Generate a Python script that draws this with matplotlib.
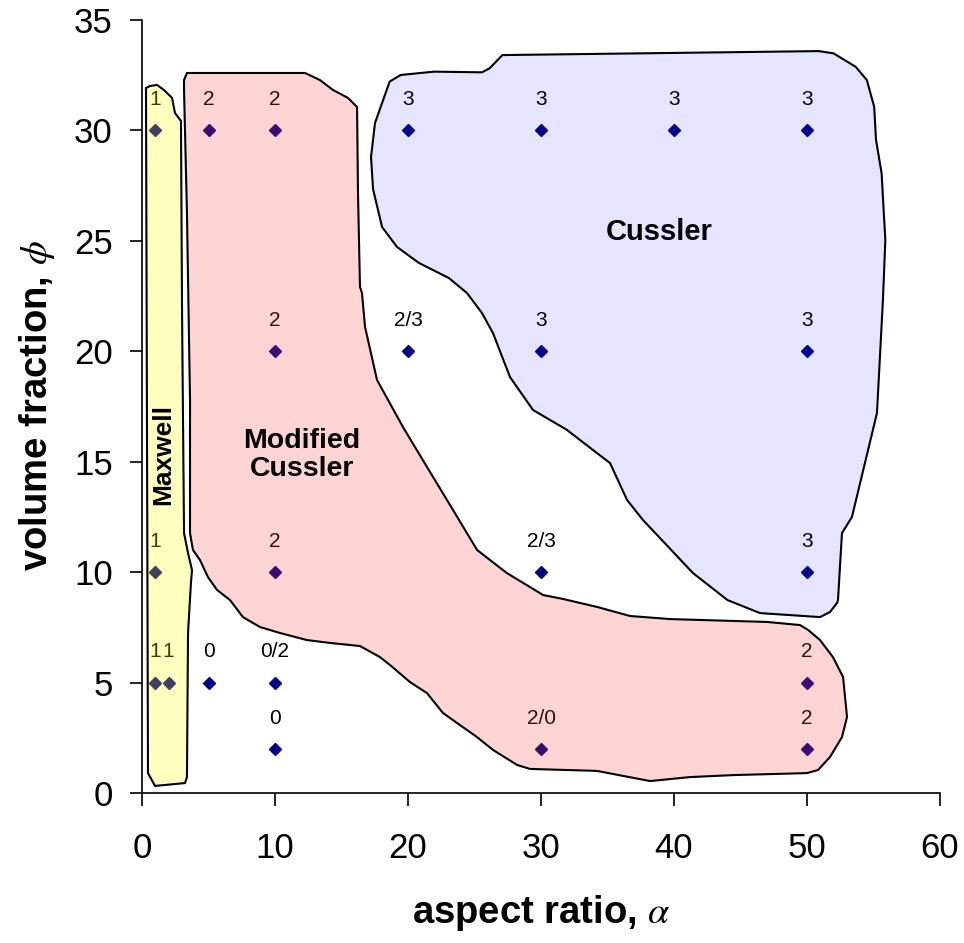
import matplotlib
matplotlib.use('Agg')
import matplotlib.pyplot as plt
from matplotlib.patches import Polygon

plt.rcParams['font.family'] = ['Liberation Sans', 'DejaVu Sans']
plt.rcParams['mathtext.fontset'] = 'stix'

# simulated cases: aspect ratio, volume fraction and the regime seen
alpha_vals = [1, 5, 10, 20, 30, 40, 50,
              10, 20, 30, 50,
              1, 10, 30, 50,
              1, 2, 5, 10, 50,
              10, 30, 50]
phi_vals = [30, 30, 30, 30, 30, 30, 30,
            20, 20, 20, 20,
            10, 10, 10, 10,
            5, 5, 5, 5, 5,
            2, 2, 2]
regime_labels = ['1', '2', '2', '3', '3', '3', '3',
                 '2', '2/3', '3', '3',
                 '1', '2', '2/3', '3',
                 '1', '1', '0', '0/2', '2',
                 '0', '2/0', '2']

# hand drawn regions (outline in data units)
maxwell_x = [0.30, 0.60, 1.13, 1.65, 2.26, 2.48, 2.93, 3.01, 3.16, 3.46, 3.76, 3.68,
             3.46, 3.38, 3.23, 0.98, 0.45]
maxwell_y = [31.90, 31.99, 32.04, 31.81, 31.45, 30.77, 30.41, 21.86, 11.76, 10.86, 10.09, 9.50,
             7.24, 0.72, 0.45, 0.32, 0.90]

modcus_x = [3.16, 3.38, 12.26, 13.38, 14.36, 15.49, 16.17, 16.24, 16.39, 16.54, 16.77, 17.67,
            19.62, 21.43, 22.93, 25.19, 26.17, 27.44, 29.17, 30.15, 31.65, 34.21, 36.69, 39.70,
            46.99, 49.47, 50.08, 50.98, 51.95, 52.71, 53.01, 52.63, 51.73, 50.83, 50.00, 44.44,
            41.20, 38.20, 34.21, 29.17, 28.20, 26.39, 25.19, 23.68, 22.63, 21.43, 20.15, 18.65,
            17.89, 16.39, 14.14, 12.41, 10.38, 8.87, 7.59, 6.62, 5.64, 4.96, 4.36, 3.83,
            3.61, 3.61, 3.38, 3.16]
modcus_y = [32.26, 32.58, 32.58, 32.26, 31.81, 31.45, 31.04, 27.15, 22.90, 22.62, 21.09, 18.69,
            16.56, 14.75, 13.26, 11.00, 10.54, 9.95, 9.32, 8.96, 8.78, 8.42, 8.01, 7.87,
            7.74, 7.60, 7.38, 6.92, 6.15, 5.25, 3.44, 2.53, 1.63, 1.04, 0.90, 0.81,
            0.72, 0.54, 1.00, 1.09, 1.27, 1.95, 2.53, 3.17, 3.62, 4.52, 5.02, 5.79,
            6.15, 6.65, 6.79, 6.92, 7.24, 7.51, 7.96, 8.73, 9.19, 9.77, 10.54, 11.00,
            11.76, 17.78, 26.24, 31.81]

cussler_x = [18.62, 19.45, 21.95, 25.56, 26.13, 27.10, 50.88, 51.99, 53.66, 54.50, 55.05, 55.19,
             55.61, 55.89, 55.71, 55.26, 53.38, 52.63, 52.33, 52.26, 51.73, 50.98, 46.47, 44.02,
             41.43, 37.67, 36.47, 35.19, 33.91, 31.95, 29.40, 27.67, 26.39, 25.56, 24.44, 23.08,
             20.83, 19.17, 18.05, 17.37, 17.22, 17.52]
cussler_y = [32.19, 32.49, 32.64, 32.61, 32.79, 33.39, 33.57, 33.47, 32.86, 32.26, 31.05, 29.55,
             28.04, 25.02, 22.31, 17.19, 12.49, 11.76, 8.73, 8.60, 8.19, 7.96, 8.14, 8.73,
             9.95, 12.35, 13.26, 14.93, 15.52, 16.43, 17.33, 18.82, 20.81, 21.72, 22.62, 23.30,
             23.98, 24.71, 25.61, 27.33, 28.78, 30.32]

fig = plt.figure(figsize=(9.64, 9.43), dpi=100)
ax = fig.add_axes([142 / 964, 150 / 943, 798 / 964, 773.5 / 943])

ax.plot(alpha_vals, phi_vals, 'D', color='#000080', markersize=6, zorder=2)
for a, p, lab in zip(alpha_vals, phi_vals, regime_labels):
    ax.annotate(lab, (a, p), xytext=(0, 22), textcoords='offset points',
                ha='center', va='center', fontsize=15, color='black', zorder=2)

regions = [
    (maxwell_x, maxwell_y, (1.0, 1.0, 0.0, 0.25)),
    (modcus_x, modcus_y, (1.0, 0.24, 0.24, 0.22)),
    (cussler_x, cussler_y, (0.0, 0.0, 1.0, 0.10)),
]
for xs, ys, fc in regions:
    ax.add_patch(Polygon(list(zip(xs, ys)), closed=True, facecolor=fc,
                         edgecolor='black', linewidth=1.5, zorder=3))

ax.text(1.58, 15.3, 'Maxwell', rotation=90, ha='center', va='center',
        fontsize=19, fontweight='bold', zorder=4)
ax.text(12.0, 15.3, 'Modified\nCussler', ha='center', va='center',
        fontsize=20.5, fontweight='bold', linespacing=1.1, zorder=4)
ax.text(38.9, 25.4, 'Cussler', ha='center', va='center',
        fontsize=21, fontweight='bold', zorder=4)

ax.set_xlim(0, 60)
ax.set_ylim(0, 35)
ax.set_xticks([0, 10, 20, 30, 40, 50, 60])
ax.set_yticks([0, 5, 10, 15, 20, 25, 30, 35])
ax.spines['top'].set_visible(False)
ax.spines['right'].set_visible(False)
for s in ['left', 'bottom']:
    ax.spines[s].set_linewidth(1.2)
ax.tick_params(axis='both', direction='out', length=9, width=1.2, labelsize=25)
ax.tick_params(axis='x', pad=19)
ax.tick_params(axis='y', pad=12)

fig.text(541 / 964, 0.032, r'aspect ratio, $\alpha$', ha='center', va='center',
         fontsize=27.5, fontweight='bold')
fig.text(0.038, (943 - 406) / 943, r'volume fraction, $\phi$', ha='center', va='center',
         rotation=90, fontsize=27.5, fontweight='bold')

fig.savefig('out.png', dpi=100)
